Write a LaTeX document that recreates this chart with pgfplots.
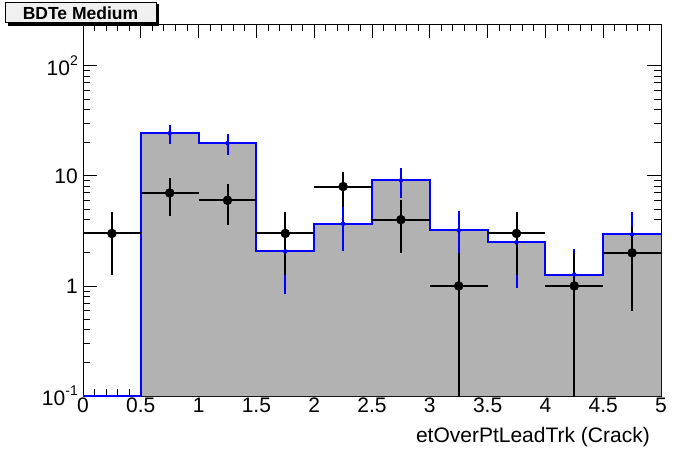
\documentclass[border=0pt]{standalone}
\usepackage{fontspec}
\setmainfont{Liberation Sans}
\usepackage{pgfplots}
\pgfplotsset{compat=1.18}
\definecolor{histgray}{gray}{0.7}
\definecolor{rootblue}{rgb}{0,0,1}
\definecolor{paveback}{gray}{0.94}
\newcommand{\expo}[1]{10\raisebox{0.5em}{\fontsize{14}{14}\selectfont #1}}
\begin{document}
\begin{tikzpicture}[x=1pt,y=1pt]
\path[use as bounding box] (0,0) rectangle (696,472);
\begin{axis}[
  at={(83pt,76pt)}, anchor=south west,
  scale only axis, width=578pt, height=372pt,
  ymode=log, xmin=0, xmax=5, ymin=0.1, ymax=240,
  axis line style={black, line width=1pt},
  tick align=inside,
  tick style={black, line width=0.9pt},
  major tick length=14pt, minor tick length=7pt,
  xtick={0,0.5,...,5}, minor x tick num=4,
  xticklabels={0,0.5,1,1.5,2,2.5,3,3.5,4,4.5,5},
  ytick={0.1,1,10,100},
  yticklabels={\expo{-1},1,10,\expo{2}},
  tick label style={font=\fontsize{21}{21}\selectfont},
  xticklabel style={inner sep=2pt},
  yticklabel style={inner sep=5pt},
  /pgf/number format/assume math mode=true,
  clip=true,
]
% grey filled MC histogram
\addplot[const plot, fill=histgray, draw=none] coordinates {
  (0.5,0.1) (0.5,24.4) (1,19.8) (1.5,2.06) (2,3.68) (2.5,9.1) (3,3.2)
  (3.5,2.49) (4,1.27) (4.5,2.94) (5,2.94) (5,0.1)} -- cycle;
% blue outline
\addplot[const plot, rootblue, line width=2pt] coordinates {
  (0,0.1) (0.5,0.1) (0.5,24.4) (1,19.8) (1.5,2.06) (2,3.68) (2.5,9.1) (3,3.2)
  (3.5,2.49) (4,1.27) (4.5,2.94) (5,2.94)};
% blue error bars
\addplot[rootblue, only marks, mark=none,
  error bars/.cd, y dir=both, y explicit, error mark=none,
  error bar style={line width=2pt, rootblue}] coordinates {
  (0.75,24.4) +- (0,4.8)
  (1.25,19.8) +- (0,4.2)
  (1.75,2.06) +- (0,1.21)
  (2.25,3.68) +- (0,1.6)
  (2.75,9.1) +- (0,2.8)
  (3.25,3.2) +- (0,1.64)
  (3.75,2.49) +- (0,1.54)
  (4.25,1.27) +- (0,0.91)
  (4.75,2.94) +- (0,1.76)};
% data points
\addplot[black, only marks, mark=*, mark size=4.5pt,
  error bars/.cd, x dir=both, x explicit, y dir=both, y explicit, error mark=none,
  error bar style={line width=2pt, black}] coordinates {
  (0.25,3) += (0.25,1.732) -= (0.25,1.732)
  (0.75,7) += (0.25,2.646) -= (0.25,2.646)
  (1.25,6) += (0.25,2.449) -= (0.25,2.449)
  (1.75,3) += (0.25,1.732) -= (0.25,1.732)
  (2.25,8) += (0.25,2.828) -= (0.25,2.828)
  (2.75,4) += (0.25,2) -= (0.25,2)
  (3.25,1) += (0.25,1) -= (0.25,0.999)
  (3.75,3) += (0.25,1.732) -= (0.25,1.732)
  (4.25,1) += (0.25,1) -= (0.25,0.999)
  (4.75,2) += (0.25,1.414) -= (0.25,1.414)};
\end{axis}
\node[anchor=base east, inner sep=0pt, font=\fontsize{21}{21}\selectfont] at (650,30) {etOverPtLeadTrk (Crack)};
% title pave with shadow
\fill[black] (8,446) rectangle (159,468);
\filldraw[fill=paveback, draw=black, line width=1pt] (5,449) rectangle (156,469);
\node[anchor=center, inner sep=0pt, font=\bfseries\fontsize{17.5}{17.5}\selectfont] at (80.5,459) {BDTe Medium};
\end{tikzpicture}
\end{document}
